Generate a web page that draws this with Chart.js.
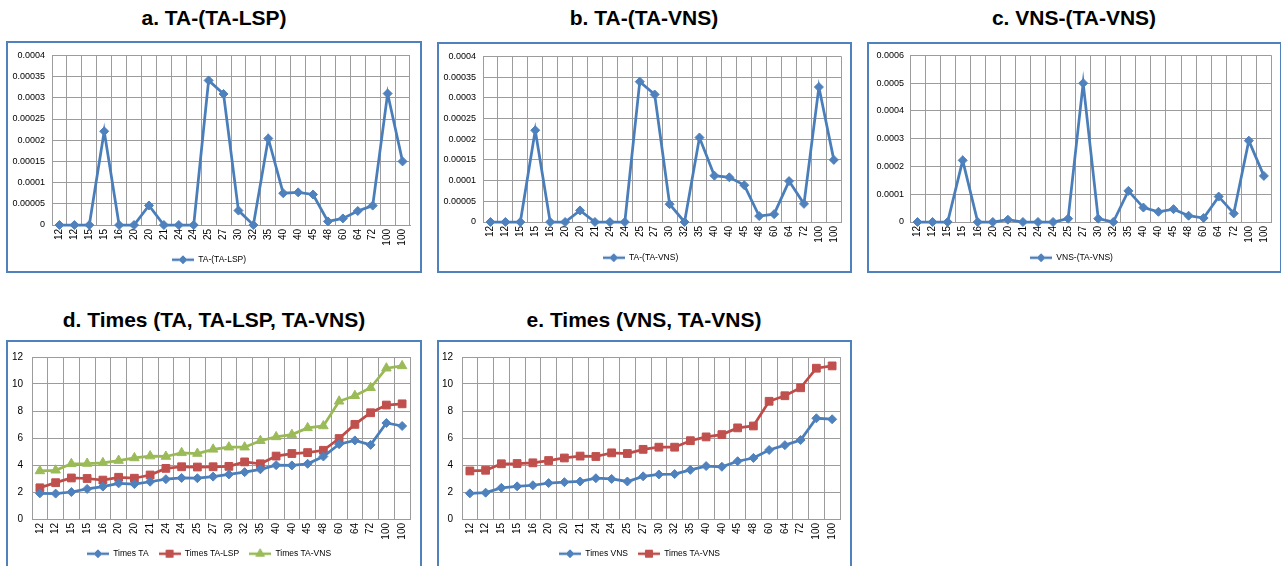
<!DOCTYPE html>
<html>
<head>
<meta charset="utf-8">
<script src="https://cdn.jsdelivr.net/npm/chart.js@4.4.1/dist/chart.umd.min.js"></script>
<style>
  html, body { margin: 0; padding: 0; background: #fff; overflow: hidden; width: 1281px; height: 566px; }
  .title { position: absolute; font: bold 21px "Liberation Sans", Arial, sans-serif; color: #000;
           text-align: center; white-space: nowrap; transform: translate(-50%, -50%); }
  .panel { position: absolute; box-sizing: border-box; border: 2px solid #4F81BD; }
  .panel canvas { position: absolute; left: 0; top: 0; }
</style>
</head>
<body>
<div class="title" style="left:214px;top:18px;">a. TA-(TA-LSP)</div>
<div class="title" style="left:644px;top:18px;">b. TA-(TA-VNS)</div>
<div class="title" style="left:1074px;top:18px;">c. VNS-(TA-VNS)</div>
<div class="title" style="left:214px;top:320px;">d. Times (TA, TA-LSP, TA-VNS)</div>
<div class="title" style="left:644px;top:320px;">e. Times (VNS, TA-VNS)</div>

<div class="panel" id="pa" style="left:6px;top:41px;width:416px;height:232px;"><canvas id="ca"></canvas></div>
<div class="panel" id="pb" style="left:437px;top:42px;width:415px;height:231px;"><canvas id="cb"></canvas></div>
<div class="panel" id="pc" style="left:867px;top:42px;width:415px;height:231px;"><canvas id="cc"></canvas></div>
<div class="panel" id="pd" style="left:6px;top:340px;width:416px;height:232px;"><canvas id="cd"></canvas></div>
<div class="panel" id="pe" style="left:437px;top:340px;width:415px;height:232px;"><canvas id="ce"></canvas></div>

<script>
// Instance sizes (shared category axis)
const categories = ['12','12','15','15','16','20','20','21','24','24','25','27','30','32','35','40','40','45','48','60','64','72','100','100'];

// Gaps between methods
const gapTA_TALSP = [0, 0, 0, 0.000221, 0, 0, 0.000046, 0, 0, 0, 0.000341, 0.000309, 0.000034, 0, 0.000204, 0.000075, 0.000077, 0.000072, 0.0000085, 0.0000155, 0.000033, 0.0000457, 0.00031, 0.00015];
const gapTA_TAVNS = [0, 0, 0, 0.0002215, 0, 0, 0.000028, 0, 0, 0, 0.000339, 0.000308, 0.000043, 0, 0.000204, 0.000112, 0.000108, 0.000089, 0.0000143, 0.000019, 0.0000988, 0.0000438, 0.000326, 0.00015];
const gapVNS_TAVNS = [0, 0, 0, 0.000222, 0, 0, 0.0000083, 0, 0, 0, 0.000012, 0.0005, 0.000012, 0, 0.000112, 0.000052, 0.0000368, 0.0000463, 0.0000226, 0.0000143, 0.0000915, 0.0000309, 0.000293, 0.000166];

// Running times
const timesTA    = [1.90, 1.88, 2.00, 2.23, 2.40, 2.64, 2.59, 2.76, 2.95, 3.04, 3.02, 3.14, 3.30, 3.47, 3.68, 3.99, 3.97, 4.09, 4.63, 5.54, 5.82, 5.49, 7.11, 6.89];
const timesTALSP = [2.31, 2.69, 3.04, 3.00, 2.88, 3.09, 3.02, 3.26, 3.75, 3.87, 3.85, 3.87, 3.90, 4.23, 4.09, 4.66, 4.85, 4.92, 5.09, 5.96, 7.01, 7.87, 8.44, 8.53];
const timesTAVNS = [3.56, 3.61, 4.09, 4.11, 4.16, 4.33, 4.52, 4.66, 4.63, 4.90, 4.85, 5.16, 5.32, 5.32, 5.80, 6.08, 6.25, 6.75, 6.89, 8.72, 9.13, 9.72, 11.17, 11.34];
const timesVNS   = [1.90, 1.95, 2.31, 2.42, 2.50, 2.66, 2.73, 2.78, 3.02, 2.97, 2.78, 3.16, 3.30, 3.33, 3.64, 3.92, 3.87, 4.28, 4.52, 5.11, 5.47, 5.85, 7.46, 7.39];

const FONT = '"Liberation Sans", Arial, sans-serif';
const GRID = '#9c9c9c';
const TEXT = '#000';
const LEGEND_FS = 8.5;
const LEGEND_PAD = 10;

const STYLES = {
  blue:  { line: '#4A7EBB', fill: '#4F81BD', pointStyle: 'rectRot',  radius: 4.5 },
  red:   { line: '#BE4B48', fill: '#C0504D', pointStyle: 'rect',     radius: 5.5 },
  green: { line: '#98B954', fill: '#9BBB59', pointStyle: 'triangle', radius: 5.5 }
};

function series(label, data, key) {
  const s = STYLES[key];
  return {
    label, data,
    borderColor: s.line, backgroundColor: s.fill,
    pointBackgroundColor: s.fill, pointBorderColor: s.fill,
    pointStyle: s.pointStyle, pointRadius: s.radius, pointBorderWidth: 1,
    borderWidth: 2.75, tension: 0, clip: false, styleKey: key
  };
}

// Legend symbol: short line with the series marker in the middle
function legendIcon(key) {
  const s = STYLES[key];
  const c = document.createElement('canvas');
  c.width = 22; c.height = 12;
  const ctx = c.getContext('2d');
  ctx.strokeStyle = s.line; ctx.lineWidth = 2.5;
  ctx.beginPath(); ctx.moveTo(0, 6); ctx.lineTo(22, 6); ctx.stroke();
  ctx.fillStyle = s.fill; ctx.strokeStyle = s.fill; ctx.lineWidth = 1;
  Chart.helpers.drawPoint(ctx, { pointStyle: s.pointStyle, radius: s.radius - 0.5, rotation: 0, borderWidth: 1 }, 11, 6);
  return c;
}

function makeChart(id, datasets, yMax, yStep, geo) {
  const canvas = document.getElementById(id);
  const h = Math.round(geo.legendY + 10 + LEGEND_FS / 2);
  canvas.width = geo.w; canvas.height = h;
  canvas.style.width = geo.w + 'px'; canvas.style.height = h + 'px';
  const legendTop = h - (LEGEND_FS + LEGEND_PAD + 10);
  const xHeight = legendTop - geo.bottom;

  return new Chart(canvas, {
    type: 'line',
    data: { labels: categories, datasets },
    options: {
      responsive: false,
      animation: false,
      events: [],
      layout: { padding: { left: 0, right: geo.right, top: geo.top, bottom: 0 } },
      plugins: {
        tooltip: { enabled: false },
        legend: {
          position: 'bottom',
          labels: {
            usePointStyle: true,
            pointStyleWidth: 22,
            padding: LEGEND_PAD,
            color: TEXT,
            font: { family: FONT, size: LEGEND_FS },
            generateLabels: (chart) => chart.data.datasets.map((ds, i) => ({
              text: ds.label,
              pointStyle: legendIcon(ds.styleKey),
              datasetIndex: i,
              hidden: false,
              lineWidth: 0,
              fillStyle: 'transparent',
              strokeStyle: 'transparent',
              fontColor: TEXT
            }))
          }
        }
      },
      scales: {
        x: {
          type: 'category',
          offset: true,
          grid: { offset: true, color: GRID, lineWidth: 1, drawTicks: false },
          border: { color: GRID, width: 1 },
          ticks: {
            autoSkip: false, minRotation: 90, maxRotation: 90, padding: 4,
            color: TEXT, font: { family: FONT, size: 10 }
          },
          afterFit: (s) => { s.height = xHeight; }
        },
        y: {
          min: 0, max: yMax,
          grid: { color: GRID, lineWidth: 1, drawTicks: false },
          border: { color: GRID, width: 1 },
          ticks: {
            stepSize: yStep, padding: geo.tickPad,
            color: TEXT, font: { family: FONT, size: geo.yFont },
            callback: (v) => String(+Number(v).toFixed(6))
          },
          afterFit: (s) => { s.width = geo.left; }
        }
      }
    }
  });
}

makeChart('ca', [series('TA-(TA-LSP)', gapTA_TALSP, 'blue')], 0.0004, 0.00005,
  { w: 412, left: 44, right: 10, top: 10, bottom: 182, legendY: 217, yFont: 9, tickPad: 7 });
makeChart('cb', [series('TA-(TA-VNS)', gapTA_TAVNS, 'blue')], 0.0004, 0.00005,
  { w: 411, left: 44, right: 8, top: 10, bottom: 178, legendY: 214, yFont: 9, tickPad: 7 });
makeChart('cc', [series('VNS-(TA-VNS)', gapVNS_TAVNS, 'blue')], 0.0006, 0.0001,
  { w: 411, left: 41, right: 6, top: 10, bottom: 178, legendY: 214, yFont: 9, tickPad: 6 });
makeChart('cd', [
    series('Times TA', timesTA, 'blue'),
    series('Times TA-LSP', timesTALSP, 'red'),
    series('Times TA-VNS', timesTAVNS, 'green')
  ], 12, 2,
  { w: 412, left: 24, right: 10, top: 9, bottom: 177, legendY: 212, yFont: 10, tickPad: 9 });
makeChart('ce', [
    series('Times VNS', timesVNS, 'blue'),
    series('Times TA-VNS', timesTAVNS, 'red')
  ], 12, 2,
  { w: 411, left: 23, right: 10, top: 9, bottom: 177, legendY: 212, yFont: 10, tickPad: 9 });
</script>
</body>
</html>
